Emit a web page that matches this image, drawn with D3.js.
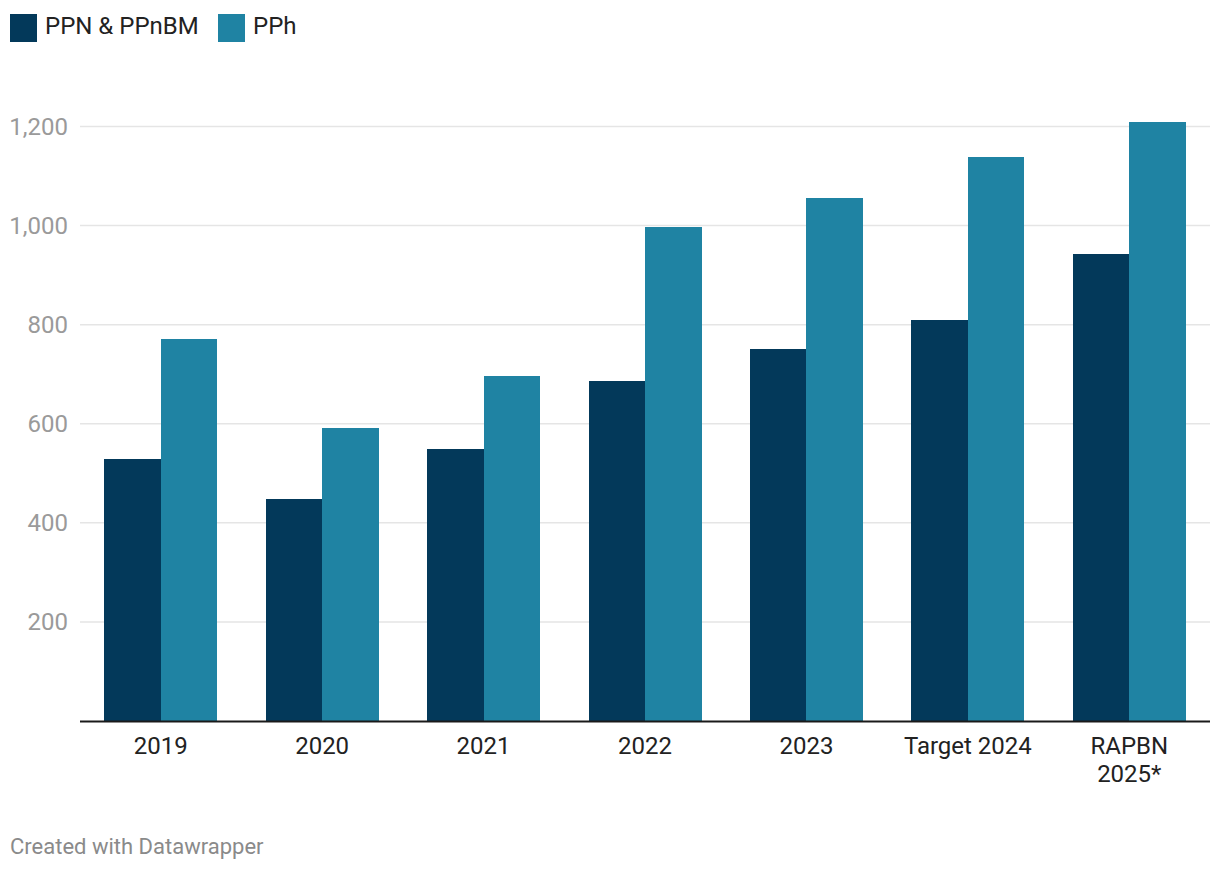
<!DOCTYPE html>
<html><head><meta charset="utf-8">
<script src="https://cdn.jsdelivr.net/npm/d3@7"></script>
<style>body{margin:0;background:#fff;font-family:Roboto,"Noto Sans",sans-serif;}</style>
</head><body>
<svg id="c" width="1220" height="872"></svg>
<script>
const categories = ["2019","2020","2021","2022","2023","Target 2024","RAPBN 2025*"];
const seriesNames = ["PPN & PPnBM","PPh"];
const ppn = [529, 449, 550, 687, 750, 810, 943];
const pph = [772, 592, 696, 998, 1056, 1139, 1210];
const yTicks = [200, 400, 600, 800, 1000, 1200];
const colors = ["#03395a", "#1f83a3"];

(function () {
const svg = d3.select("#c");
const mLeft = 80, mRight = 1210, mBottom = 721;
const x = d3.scaleBand().domain(categories).range([mLeft, mRight]).paddingInner(0.3).paddingOuter(0.15);
const x1 = d3.scaleBand().domain(seriesNames).range([0, x.bandwidth()]);
const y = d3.scaleLinear().domain([0, 1200]).range([mBottom, 126.5]);

const g = svg.append("g");
g.selectAll("line.grid").data(yTicks).join("line")
  .attr("x1", mLeft).attr("x2", mRight)
  .attr("y1", d => y(d)).attr("y2", d => y(d))
  .attr("stroke", "#e5e5e5").attr("stroke-width", 1.5);
g.selectAll("text.yl").data(yTicks).join("text")
  .attr("x", 68).attr("y", d => y(d)).attr("dy", "0.35em")
  .attr("text-anchor", "end").attr("fill", "#9a9a9a")
  .attr("font-size", 24).text(d => d3.format(",")(d));

const data = categories.map((c, i) => ({c, vals: [ppn[i], pph[i]]}));
const grp = svg.selectAll("g.grp").data(data).join("g").attr("class","grp");
grp.selectAll("rect").data(d => d.vals.map((v, j) => ({c: d.c, v, s: seriesNames[j], j}))).join("rect")
  .attr("x", d => Math.round(x(d.c) + x1(d.s)))
  .attr("width", d => Math.round(x(d.c) + x1(d.s) + x1.bandwidth()) - Math.round(x(d.c) + x1(d.s)))
  .attr("y", d => y(d.v)).attr("height", d => y(0) - y(d.v))
  .attr("fill", d => colors[d.j]).attr("shape-rendering", "crispEdges");

svg.append("line").attr("x1", mLeft).attr("x2", mRight).attr("y1", y(0)+0.5).attr("y2", y(0)+0.5)
  .attr("stroke", "#1a1a1a").attr("stroke-width", 2);

categories.forEach(c => {
  const parts = c === "RAPBN 2025*" ? ["RAPBN", "2025*"] : [c];
  const cx = x(c) + x.bandwidth()/2;
  const t = svg.append("text").attr("x", cx).attr("y", 754)
    .attr("text-anchor", "middle").attr("fill", "#222").attr("font-size", 24);
  parts.forEach((p, i) => t.append("tspan").attr("x", cx).attr("dy", i ? 28 : 0).text(p));
});

const leg = [{n: seriesNames[0], x: 10}, {n: seriesNames[1], x: 218}];
leg.forEach((l, i) => {
  svg.append("rect").attr("x", l.x).attr("y", 14).attr("width", 27).attr("height", 28).attr("fill", colors[i]);
  svg.append("text").attr("x", l.x + 35).attr("y", 34).attr("fill", "#222").attr("font-size", 24).text(l.n);
});

svg.append("text").attr("x", 10).attr("y", 854).attr("fill", "#8a8a8a").attr("font-size", 22).text("Created with Datawrapper");
})();
</script>
</body></html>
